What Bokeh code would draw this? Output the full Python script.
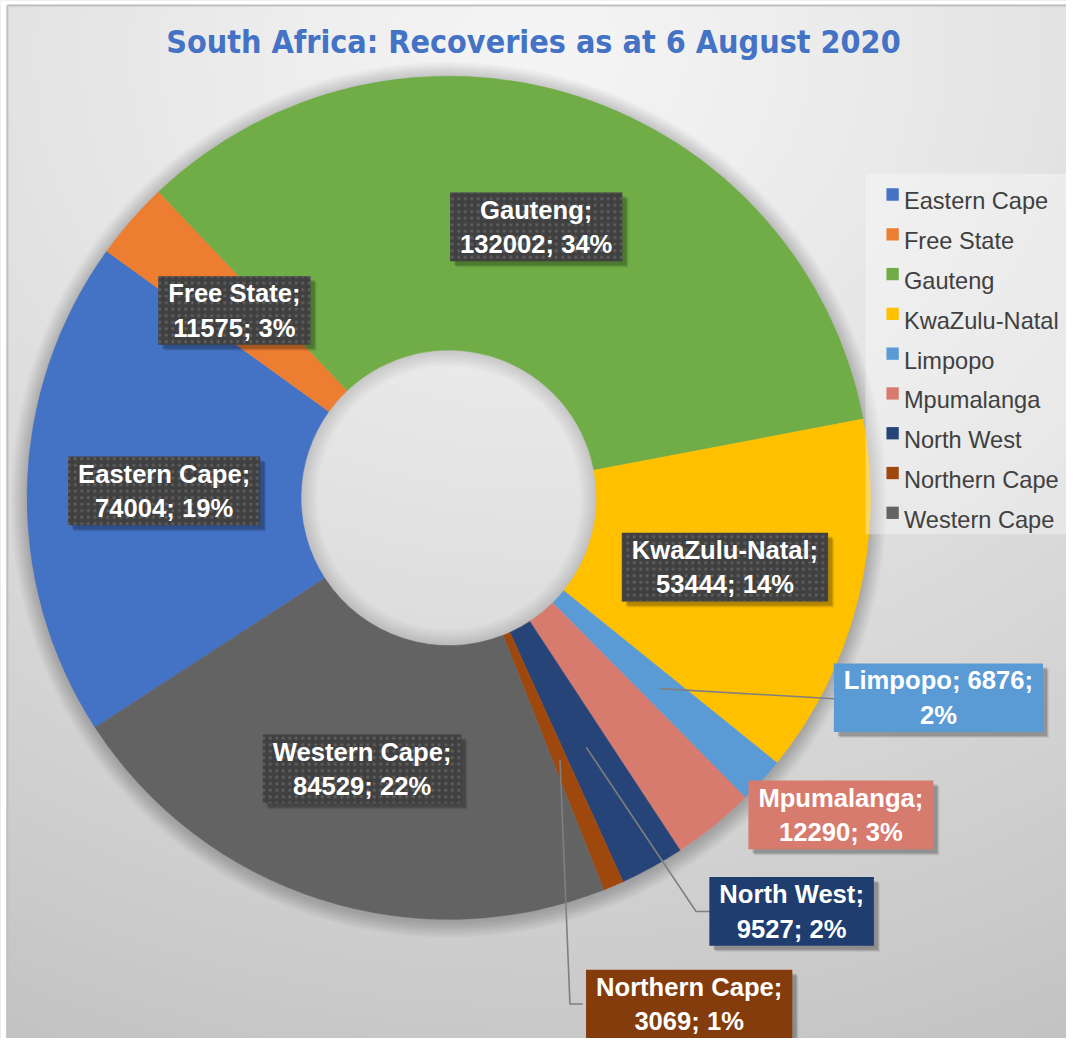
import numpy as np
from bokeh.plotting import figure
from bokeh.models import Range1d, ColumnDataSource
from bokeh.core.properties import value
from bokeh.embed import file_html
from bokeh.resources import INLINE

# ---------------- data ----------------
provinces = ["Eastern Cape", "Free State", "Gauteng", "KwaZulu-Natal", "Limpopo",
             "Mpumalanga", "North West", "Northern Cape", "Western Cape"]
recoveries = [74004, 11575, 132002, 53444, 6876, 12290, 9527, 3069, 84529]
title_text = "South Africa:  Recoveries as at 6 August 2020"

# ---------------- style / layout ----------------
colors = ["#4472C4", "#ED7D31", "#70AD47", "#FFC000", "#5B9BD5",
          "#D77B6E", "#264478", "#9E480E", "#636363"]
W, H = 1066, 1038            # figure size in screen px
RW, RH = 1082, 1054          # layout units (reference canvas)
CX, CY = 455, -505           # donut centre (layout units, y negated)
R_OUT, R_IN = 428, 150
FIRST_ANGLE = 237.0          # compass degrees of first slice
LABEL_R = 289
manual = {
    "Limpopo":       dict(pos=(952, -708), box="#5B9BD5", wrap=True,  leader=[(846, -709)]),
    "Mpumalanga":    dict(pos=(853, -827), box="#D77B6E", wrap=False, leader=None),
    "North West":    dict(pos=(803, -925), box="#203D70", wrap=False, leader=[(706, -925), (720, -925)]),
    "Northern Cape": dict(pos=(699, -1019), box="#843C0C", wrap=False, leader=[(578, -1019), (591, -1019)]),
}

p = figure(width=W, height=H, x_range=Range1d(0, RW), y_range=Range1d(-RH, 0),
           output_backend="svg", toolbar_location=None, x_axis_type=None, y_axis_type=None,
           min_border=0)
p.grid.visible = False
p.outline_line_color = None
p.background_fill_color = "#DDDDDD"
p.border_fill_color = "#DDDDDD"

# ---------------- background gradient ----------------
nx, ny = 541, 527
px = (np.arange(nx) + 0.5) * (RW / nx)
py = RH - (np.arange(ny) + 0.5) * (RH / ny)
PX, PY = np.meshgrid(px, py)
d = np.hypot((PX - 545) / 1.15, PY - 55)
t = np.clip(d / 1100, 0, 1) ** 1.2
v = (245 - 50 * t).astype(np.uint8)
img = np.empty((ny, nx), dtype=np.uint32)
view = img.view(dtype=np.uint8).reshape((ny, nx, 4))
view[..., 0] = v
view[..., 1] = v
view[..., 2] = v
view[..., 3] = 255
p.image_rgba(image=[img], x=0, y=-RH, dw=RW, dh=RH)

# chart border (top / left); outside it a white page strip
p.quad(left=0, right=6, top=0, bottom=-RH, fill_color="white", line_color=None)
p.quad(left=0, right=RW, top=0, bottom=-4, fill_color="white", line_color=None)
p.line([7, 7], [-RH, -5], line_color="#C0C0C0", line_width=2)
p.line([7, RW], [-5, -5], line_color="#C0C0C0", line_width=2)

# ---------------- donut shadow ----------------
for k in range(1, 18):
    p.annulus(x=CX, y=CY - 2, inner_radius=R_OUT - 2, outer_radius=R_OUT + k,
              fill_color="black", fill_alpha=0.011, line_color=None)
for k in range(1, 18):
    p.annulus(x=CX, y=CY, inner_radius=R_IN - k, outer_radius=R_IN + 2,
              fill_color="black", fill_alpha=0.006, line_color=None)

# ---------------- wedges ----------------
vals = np.array(recoveries, dtype=float)
total = vals.sum()
frac = vals / total
cum = np.concatenate([[0], np.cumsum(frac)[:-1]])
theta_s = FIRST_ANGLE + 360 * cum
theta_e = theta_s + 360 * frac
theta_m = (theta_s + theta_e) / 2
pct = [int(round(f * 100)) for f in frac]

src = ColumnDataSource(dict(
    province=provinces, value=recoveries, color=colors,
    start=np.deg2rad(90 - theta_s), end=np.deg2rad(90 - theta_e)))
p.annular_wedge(x=CX, y=CY, inner_radius=R_IN, outer_radius=R_OUT,
                start_angle="start", end_angle="end", direction="clock",
                fill_color="color", line_color="color", line_width=0.5, source=src)

# ---------------- legend ----------------
p.quad(left=878, right=RW, top=-176, bottom=-542, fill_color="white",
       fill_alpha=0.35, line_color=None)
leg_y = [-(204 + 40.4 * i) for i in range(len(provinces))]
p.rect(x=[905.5] * len(provinces), y=[yy + 7 for yy in leg_y], width=12.5, height=12.5,
       fill_color=colors, line_color=None)
p.text(x=[917] * len(provinces), y=leg_y, text=provinces, text_font=value("Liberation Sans"),
       text_font_size="23.6px", text_color="#404040", text_baseline="alphabetic", text_align="left")

# ---------------- data labels ----------------
auto_x, auto_y, auto_t = [], [], []
man_x, man_y, man_t, man_c = [], [], [], []
for i, name in enumerate(provinces):
    th = np.deg2rad(theta_m[i])
    ax, ay = CX + LABEL_R * np.sin(th), CY + LABEL_R * np.cos(th)
    if name in manual:
        m = manual[name]
        if m["wrap"]:
            txt = f"{name}; {recoveries[i]};\n{pct[i]}%"
        else:
            txt = f"{name};\n{recoveries[i]}; {pct[i]}%"
        man_x.append(m["pos"][0]); man_y.append(m["pos"][1]); man_t.append(txt); man_c.append(m["box"])
        if m["leader"]:
            lx = [ax] + [pt[0] for pt in m["leader"]]
            ly = [ay] + [pt[1] for pt in m["leader"]]
            p.line(lx, ly, line_color="#7F7F7F", line_width=1.6)
    else:
        auto_x.append(ax); auto_y.append(ay)
        auto_t.append(f"{name};\n{recoveries[i]}; {pct[i]}%")

label_font = dict(text_font=value("Liberation Sans"), text_font_style="bold",
                  text_font_size="25.6px", text_align="center", text_baseline="middle",
                  text_line_height=1.24)

all_x = auto_x + man_x
all_y = auto_y + man_y
all_t = auto_t + man_t
for off, a in [(6, 0.08), (5, 0.11), (4, 0.14)]:
    p.text(x=all_x, y=all_y, text=all_t, x_offset=off, y_offset=off, text_alpha=0,
           background_fill_color="black", background_fill_alpha=a, padding=(10, 3),
           **label_font)
p.text(x=auto_x, y=auto_y, text=auto_t, text_color="white",
       background_fill_color="#404040", background_hatch_pattern="dot",
       background_hatch_color="#5F5F5F", background_hatch_scale=6.5,
       background_hatch_weight=1.6, padding=(10, 3), **label_font)
msrc = ColumnDataSource(dict(x=man_x, y=man_y, text=man_t, box=man_c))
p.text(x="x", y="y", text="text", source=msrc, text_color="white",
       background_fill_color="box", padding=(10, 3), **label_font)

# ---------------- title ----------------
p.text(x=[546], y=[-42], text=[title_text], text_font=value("DejaVu Sans Condensed"),
       text_font_style="bold", text_font_size="32px", text_color="#4472C4",
       text_align="center", text_baseline="alphabetic")

open("out.html", "w").write(file_html(p, INLINE))
